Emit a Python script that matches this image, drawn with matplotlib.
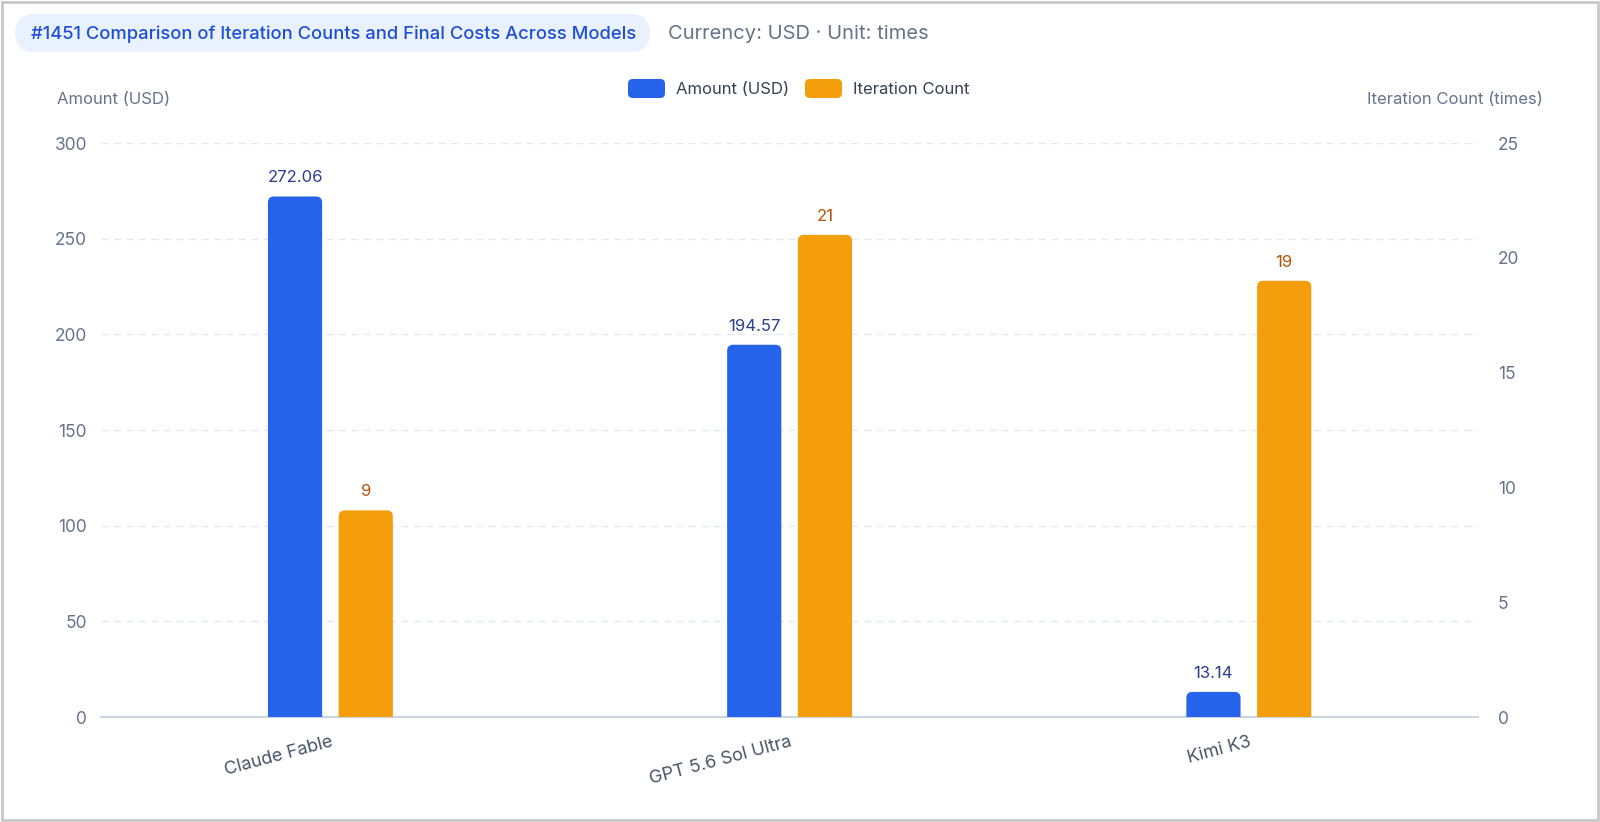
import matplotlib
matplotlib.use("Agg")
from matplotlib import pyplot as plt
from matplotlib.patches import FancyBboxPatch, Rectangle
import numpy as np

plt.rcParams["font.family"] = ["Inter", "DejaVu Sans"]

models = ["Claude Fable", "GPT 5.6 Sol Ultra", "Kimi K3"]
amount_usd = [272.06, 194.57, 13.14]
iterations = [9, 21, 19]

BLUE = "#2563eb"
ORANGE = "#f59e0b"
GRID = "#e2e8f0"
TICK = "#64748b"

fig = plt.figure(figsize=(16, 8.22), dpi=100)
fig.patch.set_facecolor("white")

ax = fig.add_axes([0.063, 0.1277, 0.861, 0.6983])
ax2 = ax.twinx()

x = np.arange(len(models))
bw = 0.118
off = 0.077

ax.set_xlim(-0.5, len(models) - 0.5)
ax.set_ylim(0, 300)
ax2.set_ylim(0, 25)


def px_per_unit(a):
    p0 = a.transData.transform((0, 0))
    p1 = a.transData.transform((1, 1))
    return p1[0] - p0[0], p1[1] - p0[1]


def rounded_bars(a, xs, hs, color, r_px=6):
    sx, sy = px_per_unit(a)
    r = r_px / sx
    aspect = sx / sy
    ext = r_px / sy
    for xc, h in zip(xs, hs):
        p = FancyBboxPatch((xc - bw / 2, -ext), bw, h + ext,
                           boxstyle="round,pad=0,rounding_size=%f" % r,
                           mutation_aspect=aspect, fc=color, ec="none",
                           zorder=3, clip_on=True)
        a.add_patch(p)


rounded_bars(ax, x - off, amount_usd, BLUE)
rounded_bars(ax2, x + off, iterations, ORANGE)

for xc, v in zip(x - off, amount_usd):
    ax.annotate("%.2f" % v, (xc, v), xytext=(0, 8), textcoords="offset points",
                ha="center", va="bottom", fontsize=12, color="#2b3f8f")
for xc, v in zip(x + off, iterations):
    ax2.annotate("%d" % v, (xc, v), xytext=(0, 8), textcoords="offset points",
                 ha="center", va="bottom", fontsize=12, color="#b45309")

ax.set_yticks(np.arange(0, 301, 50))
ax2.set_yticks(np.arange(0, 26, 5))
ax.grid(axis="y", color=GRID, linestyle=(0, (5, 4)), linewidth=1)
ax.set_axisbelow(True)
ax.set_xticks(x)
ax.set_xticklabels(models, rotation=15, ha="right", rotation_mode="anchor")
ax.tick_params(axis="x", length=0, pad=12, labelsize=13, labelcolor="#475569")
ax.tick_params(axis="y", length=0, pad=10, labelsize=12.5, labelcolor=TICK)
ax2.tick_params(axis="y", length=0, pad=14, labelsize=12.5, labelcolor=TICK)

for a in (ax, ax2):
    for s in a.spines.values():
        s.set_visible(False)
ax.spines["bottom"].set_visible(True)
ax.spines["bottom"].set_color("#cbd5e1")
ax.spines["bottom"].set_linewidth(1.5)

# axis titles
fig.text(57 / 1600, 1 - 99 / 822, "Amount (USD)", fontsize=12, color=TICK,
         ha="left", va="center")
fig.text(1543 / 1600, 1 - 99 / 822, "Iteration Count (times)", fontsize=12,
         color=TICK, ha="right", va="center")

# legend
items = [("Amount (USD)", BLUE, 628), ("Iteration Count", ORANGE, 805)]
for label, col, xp in items:
    fig.patches.append(FancyBboxPatch((xp / 1600, 1 - 98 / 822), 37 / 1600, 19 / 822,
                                      boxstyle="round,pad=0,rounding_size=0.003",
                                      mutation_aspect=1600 / 822,
                                      transform=fig.transFigure, fc=col, ec="none"))
    fig.text((xp + 48) / 1600, 1 - 89 / 822, label, fontsize=12, color="#334155",
             ha="left", va="center")

# title pill
fig.patches.append(FancyBboxPatch((15 / 1600, 1 - 52 / 822), 635 / 1600, 38 / 822,
                                  boxstyle="round,pad=0,rounding_size=0.012",
                                  mutation_aspect=1600 / 822,
                                  transform=fig.transFigure, fc="#eaf1fe", ec="none"))
fig.text(31 / 1600, 1 - 34 / 822,
         "#1451 Comparison of Iteration Counts and Final Costs Across Models",
         fontsize=13.2, color="#1d4ed8", ha="left", va="center", fontweight="medium")
fig.text(668 / 1600, 1 - 34 / 822, "Currency: USD \u00b7 Unit: times",
         fontsize=14.5, color=TICK, ha="left", va="center")

# outer border
fig.patches.append(Rectangle((0.001, 0.002), 0.998, 0.996, transform=fig.transFigure,
                             fc="none", ec="#c8c8c8", lw=2))

fig.savefig("out.png", dpi=100)
